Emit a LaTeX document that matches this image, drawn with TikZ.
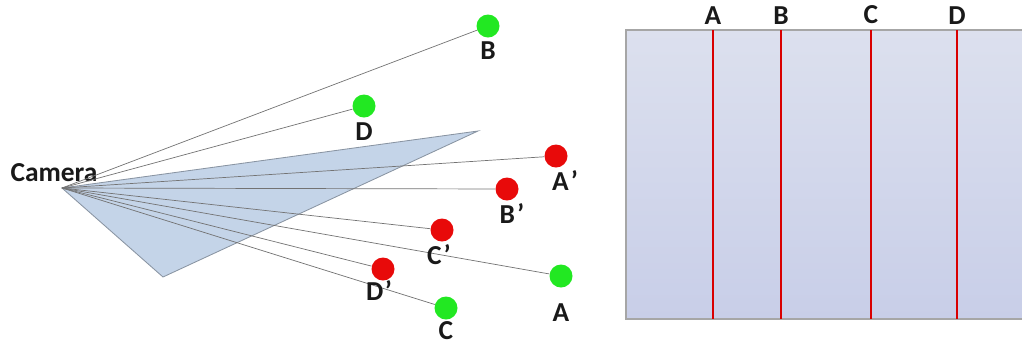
\documentclass[tikz,border=0pt]{standalone}
\usepackage{fontspec}
\setmainfont{Carlito}
\usetikzlibrary{positioning}
\definecolor{ptgreen}{RGB}{34,232,34}
\definecolor{ptred}{RGB}{232,10,10}
\definecolor{fovblue}{RGB}{196,212,232}
\definecolor{panelTop}{RGB}{220,224,238}
\definecolor{panelBot}{RGB}{200,206,232}
\tikzset{
      ptdot/.style={
        circle,
        minimum size=23*0.025cm,
        inner sep=0pt
      },
      greendot/.style={ptdot, fill=ptgreen},
      reddot/.style={ptdot, fill=ptred},
      ray/.style={draw=black!55, line width=0.5pt},
      lbl/.style={
        font=\fontsize{19.5}{21}\selectfont\bfseries,
        text=black!90,
        inner sep=0pt
      },
      cutline/.style={draw=red!85!black, line width=1.6pt}
    }
\begin{document}
\begin{tikzpicture}[x=0.025cm,y=-0.025cm]
    \useasboundingbox (0,0) rectangle (1022,345);
    % camera and its field of view
    \coordinate (cam) at (62,188);
    \node[lbl] (camlbl) at (54,173) {Camera};
    \fill[fovblue, draw=black!30!fovblue, line width=0.6pt] (cam) -- (478,131) -- (163,277) -- cycle;

    % scene points
    \node[greendot] (pB) at (488,26) {};
    \node[greendot] (pD) at (364,106) {};
    \node[greendot] (pA) at (561,276) {};
    \node[greendot] (pC) at (446,308) {};
    \node[reddot] (qA) at (556,156) {};
    \node[reddot] (qB) at (507,189) {};
    \node[reddot] (qC) at (442,230) {};
    \node[reddot] (qD) at (383,269) {};

    \foreach \p in {pB,pD,qA,qB,qC,pA,qD,pC}
      \draw[ray] (cam) -- (\p);

    \node[lbl] (lB) at (488,51) {B};
    \node[lbl] (lD) at (364,132) {D};
    \node[lbl] (lA) at (561,313) {A};
    \node[lbl] (lC) at (446,331) {C};
    \node[lbl] (lqA) at (565,181) {A\kern1.5pt’};
    \node[lbl] (lqB) at (512,214) {B\kern1.5pt’};
    \node[lbl] (lqC) at (439,255) {C\kern1.5pt’};
    \node[lbl] (lqD) at (379,291) {D\kern1pt’};

    % image plane with the projected columns
    \shade[top color=panelTop, bottom color=panelBot] (626,30) rectangle (1022,319);
    \draw[black!35, line width=0.8pt] (1022,30) -- (626,30) -- (626,319) -- (1022,319);
    \foreach \x/\t in {713/A,781/B,871/C,957/D} {
      \coordinate (top\t) at (\x,30);
      \coordinate (bot\t) at (\x,319);
      \draw[cutline] (top\t) -- (bot\t);
      \node[lbl, above=4pt of top\t] (col\t) {\t};
    }
    \end{tikzpicture}
\end{document}
